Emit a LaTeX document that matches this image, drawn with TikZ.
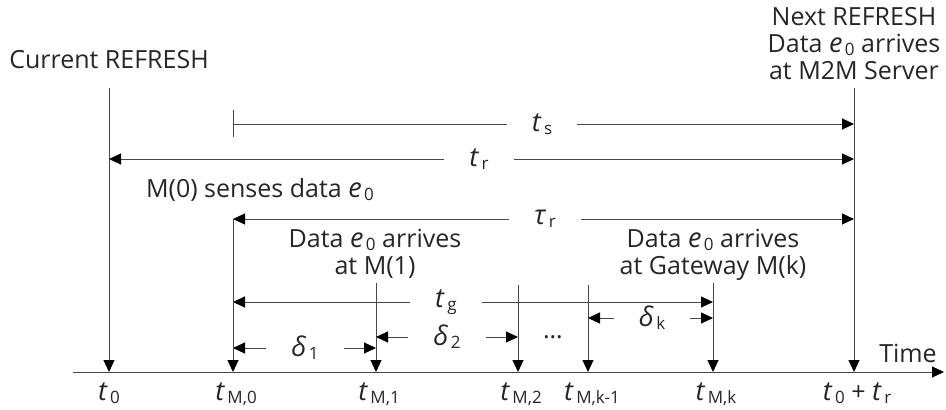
\documentclass[tikz,border=0pt]{standalone}
\usepackage{fontspec}
\setmainfont{Open Sans}
\usetikzlibrary{arrows.meta}
\newcommand\vi[1]{{\fontsize{27}{27}\selectfont\textit{#1}}}
\newcommand\sbs[1]{\hspace{0.1em}\raisebox{-0.12em}{\fontsize{17}{17}\selectfont #1}}
\begin{document}
\begin{tikzpicture}[x=1pt,y=-1pt,
  ln/.style={draw=black!72, line width=1pt},
  arr/.style={ln, -{Triangle[length=12pt,width=11pt,color=black,fill=black]}},
  lab/.style={font=\fontsize{25}{27}\selectfont, inner sep=0pt, text=black!85},
  gap/.style={lab, inner xsep=25pt, inner ysep=0pt},
]
\useasboundingbox (0,0) rectangle (946,410);

% vertical line ends
\coordinate (t0top) at (109,88);   \coordinate (t0b) at (109,372);
\coordinate (m0t1) at (233,110);   \coordinate (m0t2) at (233,137);
\coordinate (m0top) at (233,219);  \coordinate (m0b) at (233,372);
\coordinate (m1top) at (376,283);  \coordinate (m1b) at (376,372);
\coordinate (m2top) at (518,285);  \coordinate (m2b) at (518,372);
\coordinate (mk1top) at (588,285); \coordinate (mk1b) at (588,372);
\coordinate (mktop) at (713,283);  \coordinate (mkb) at (713,372);
\coordinate (trtop) at (854,88);   \coordinate (trb) at (854,372);
\coordinate (axL) at (73,372);     \coordinate (axR) at (944,372);

% texts
\node[lab, anchor=base] (cur) at (109,68) {Current REFRESH};
\node[lab, anchor=north, align=center] (nxt) at (854,7) {Next REFRESH\\Data \vi{e}\sbs{0} arrives\\at M2M Server};
\node[lab, anchor=base] (sense) at (260,197) {M(0) senses data \vi{e}\sbs{0}};
\node[lab, anchor=north, align=center] (arr1) at (375,229) {Data \vi{e}\sbs{0} arrives\\at M(1)};
\node[lab, anchor=north, align=center] (arrk) at (713,229) {Data \vi{e}\sbs{0} arrives\\at Gateway M(k)};
\node[lab, anchor=base] (time) at (908,362) {Time};
\node[lab, anchor=base] (dots) at (553,338) {\dots};

% axis labels
\node[lab, anchor=base] (l0) at (109,400) {\vi{t}\sbs{0}};
\node[lab, anchor=base] (lm0) at (236,400) {\vi{t}\sbs{M,0}};
\node[lab, anchor=base] (lm1) at (379,400) {\vi{t}\sbs{M,1}};
\node[lab, anchor=base] (lm2) at (521,400) {\vi{t}\sbs{M,2}};
\node[lab, anchor=base] (lmk1) at (592,400) {\vi{t}\sbs{M,k-1}};
\node[lab, anchor=base] (lmk) at (716,400) {\vi{t}\sbs{M,k}};
\node[lab, anchor=base] (ltr) at (857,400) {\vi{t}\sbs{0} + \vi{t}\sbs{r}};

% interval labels on lines
\node[gap] (ts) at (542,124) {\vi{t}\sbs{s}};
\node[gap] (tr) at (479,159) {\vi{t}\sbs{r}};
\node[gap] (tau) at (545,219) {\vi{τ}\sbs{r}};
\node[gap] (tg) at (446,302) {\vi{t}\sbs{g}};
\node[gap] (d1) at (305,348) {\vi{δ}\sbs{1}};
\node[gap] (d2) at (447,337) {\vi{δ}\sbs{2}};
\node[gap] (dk) at (652,318) {\vi{δ}\sbs{k}};

% axis
\draw[arr] (axL) -- (axR);
% vertical lines
\draw[arr] (t0top) -- (t0b);
\draw[ln] (m0t1) -- (m0t2);
\draw[arr] (m0top) -- (m0b);
\draw[arr] (m1top) -- (m1b);
\draw[arr] (m2top) -- (m2b);
\draw[arr] (mk1top) -- (mk1b);
\draw[arr] (mktop) -- (mkb);
\draw[arr] (trtop) -- (trb);

% interval arrows
\draw[ln] (m0t1 |- ts) -- (ts.west);
\draw[arr] (ts.east) -- (trtop |- ts);
\draw[arr] (tr.west) -- (t0top |- tr);
\draw[arr] (tr.east) -- (trtop |- tr);
\draw[arr] (tau.west) -- (m0top |- tau);
\draw[arr] (tau.east) -- (trtop |- tau);
\draw[arr] (tg.west) -- (m0top |- tg);
\draw[arr] (tg.east) -- (mktop |- tg);
\draw[arr] (d1.west) -- (m0top |- d1);
\draw[arr] (d1.east) -- (m1top |- d1);
\draw[arr] (d2.west) -- (m1top |- d2);
\draw[arr] (d2.east) -- (m2top |- d2);
\draw[arr] (dk.west) -- (mk1top |- dk);
\draw[arr] (dk.east) -- (mktop |- dk);
\end{tikzpicture}
\end{document}
